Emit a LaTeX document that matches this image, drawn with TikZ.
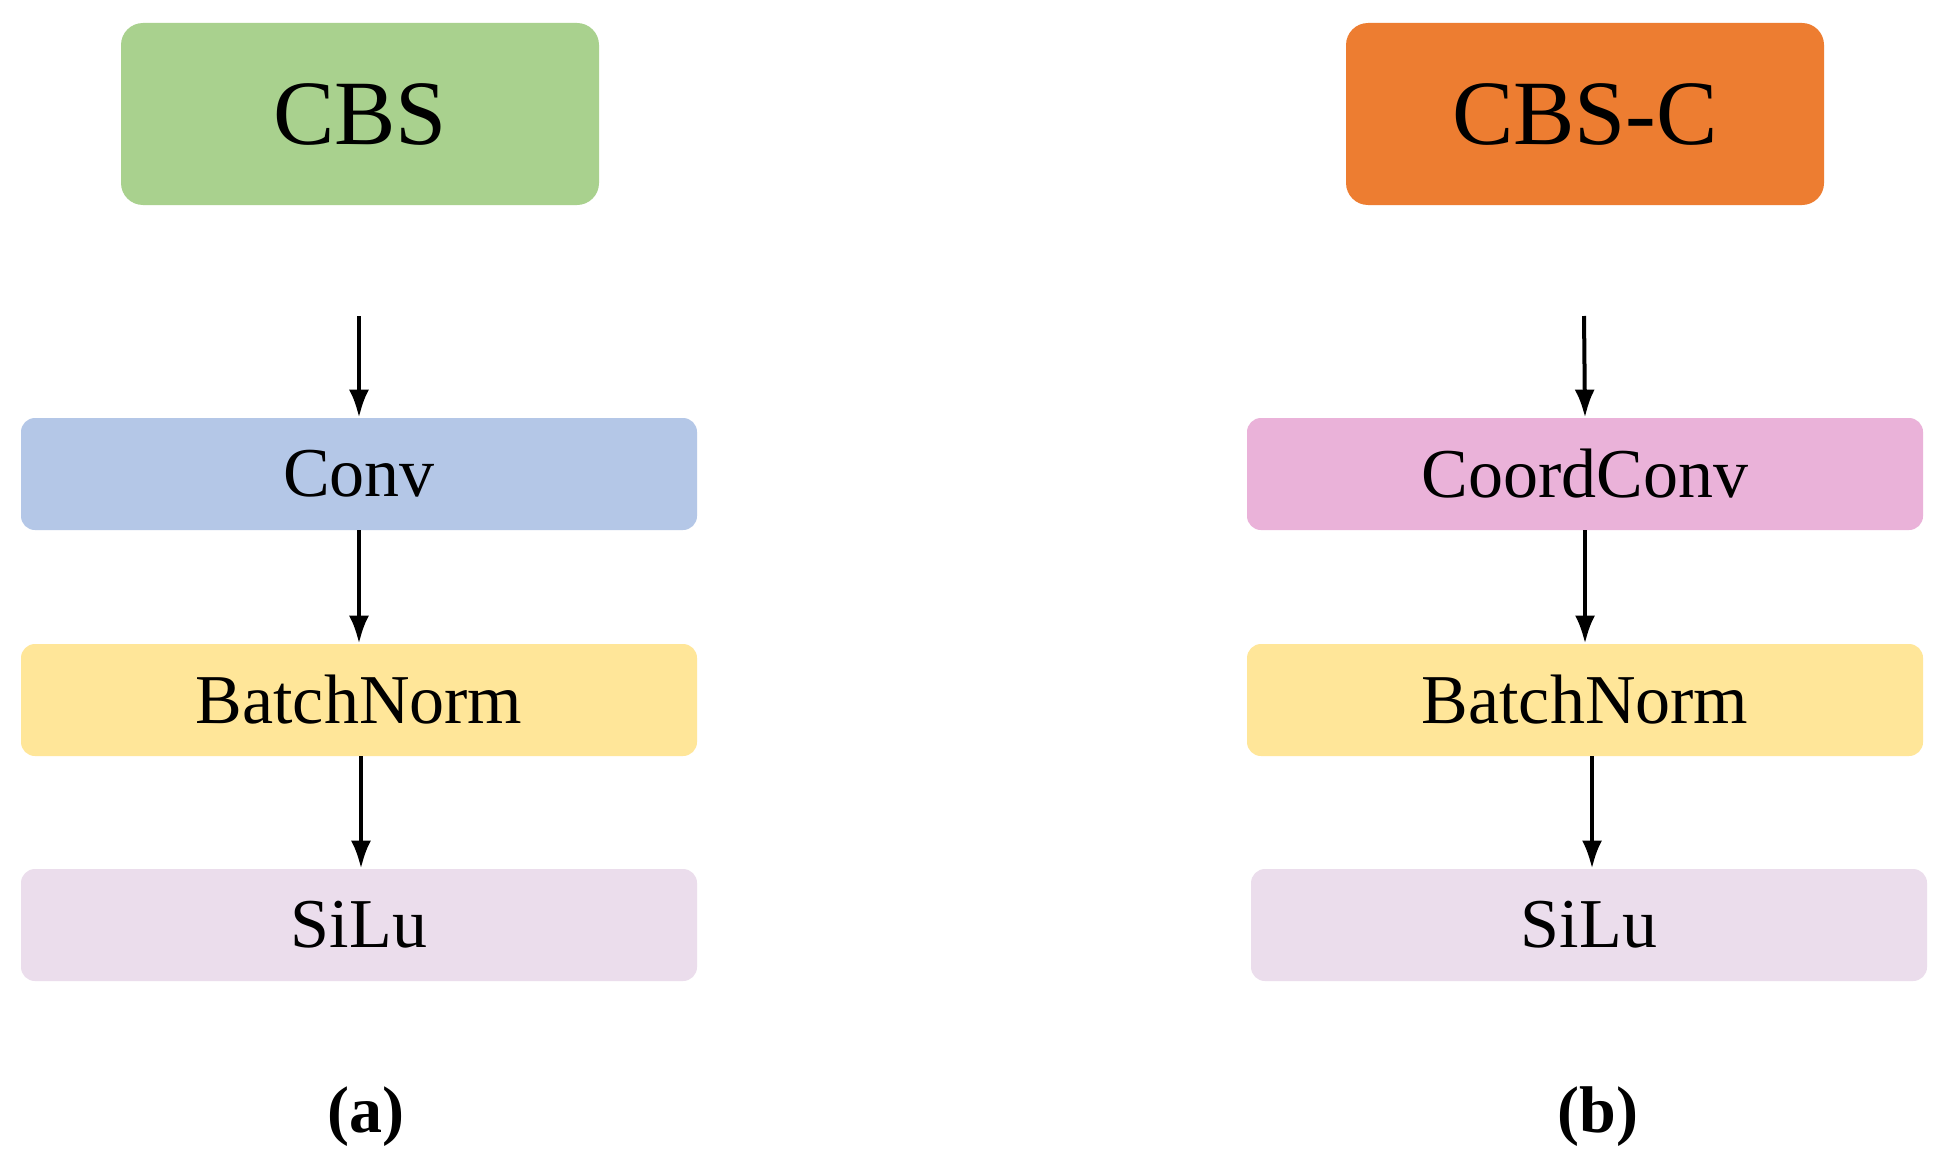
\documentclass[tikz,border=0pt]{standalone}
\usepackage{fontspec}
\setmainfont{Liberation Serif}
\usetikzlibrary{arrows.meta}
\definecolor{cgreen}{HTML}{A9D18E}
\definecolor{corange}{HTML}{ED7D31}
\definecolor{cblue}{HTML}{B4C7E7}
\definecolor{cyellow}{HTML}{FFE699}
\definecolor{cpink}{HTML}{EAB2D9}
\definecolor{clav}{HTML}{EBDDEC}
\tikzset{
  titlebox/.style={rounded corners=11pt, minimum width=239pt, minimum height=91pt, inner sep=0pt, font=\fontsize{46}{50}\selectfont},
  layerbox/.style={rounded corners=7pt, minimum width=338pt, minimum height=56pt, inner sep=0pt, font=\fontsize{35}{40}\selectfont},
  flow/.style={line width=2pt, -{Latex[length=14pt,width=10pt]}},
  caption/.style={font=\fontsize{33}{38}\selectfont\bfseries}
}
\begin{document}
\begin{tikzpicture}[x=0.5pt,y=-0.5pt]
\useasboundingbox (0,0) rectangle (1946,1172);
\fill[white] (0,0) rectangle (1946,1172);
% left column
\node[titlebox, fill=cgreen] (cbs) at (360,114) {CBS};
\node[layerbox, fill=cblue] (conv) at (359,474) {Conv};
\node[layerbox, fill=cyellow] (bnl) at (359,700) {BatchNorm};
\node[layerbox, fill=clav] (silul) at (359,925) {SiLu};
\coordinate (inl) at (359,316);
\draw[flow] (inl) -- (conv.north);
\draw[flow] (conv.south) -- (bnl.north);
\draw[flow] ([xshift=1pt]bnl.south) -- ([xshift=1pt]silul.north);
\node[caption] (capa) at (366,1117) {(a)};
% right column
\node[titlebox, fill=corange] (cbsc) at (1585,114) {CBS-C};
\node[layerbox, fill=cpink] (cconv) at (1585,474) {CoordConv};
\node[layerbox, fill=cyellow] (bnr) at (1585,700) {BatchNorm};
\node[layerbox, fill=clav] (silur) at (1589,925) {SiLu};
\coordinate (inr) at (1584,316);
\draw[flow] (inr) -- (cconv.north);
\draw[flow] (cconv.south) -- (bnr.north);
\draw[flow] ([xshift=3.5pt]bnr.south) -- ([xshift=3.5pt]bnr.south |- silur.north);
\node[caption] (capb) at (1598,1117) {(b)};
\end{tikzpicture}
\end{document}
